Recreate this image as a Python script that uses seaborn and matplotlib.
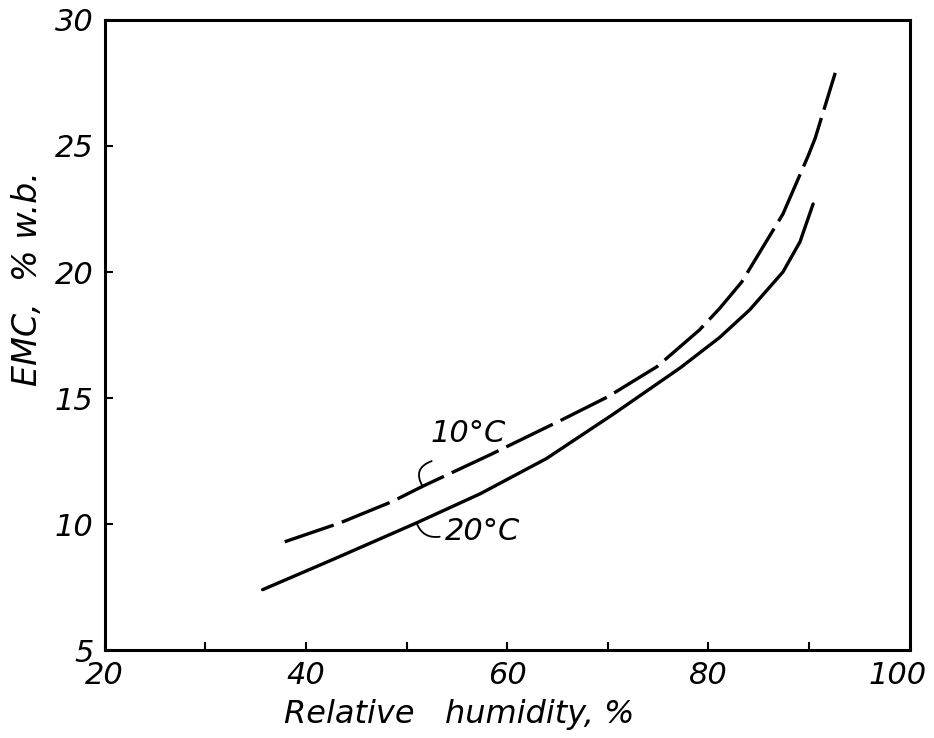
import numpy as np
import pandas as pd
import seaborn as sns
import matplotlib.pyplot as plt
from matplotlib.transforms import ScaledTranslation

# Curve values ----------------------------------------------------------------
rh_10c = [37.9, 43.4, 48.6, 51.6, 58.3, 65.5, 70.0, 74.9, 79.1, 81.1, 83.3, 87.4, 89.9, 90.6, 92.6]
emc_10c = [9.3, 10.05, 10.9, 11.5, 12.75, 14.15, 15.05, 16.25, 17.7, 18.55, 19.6, 22.3, 24.6, 25.3, 27.9]

rh_20c = [35.7, 42.7, 51.0, 57.3, 63.9, 70.5, 77.2, 81.1, 84.1, 87.4, 89.1, 90.4]
emc_20c = [7.4, 8.6, 10.05, 11.2, 12.6, 14.35, 16.2, 17.4, 18.5, 20.0, 21.2, 22.7]

x_ticks = [20, 40, 60, 80, 100]
y_ticks = [5, 10, 15, 20, 25, 30]

df_10 = pd.DataFrame({'rh': rh_10c, 'emc': emc_10c})
df_20 = pd.DataFrame({'rh': rh_20c, 'emc': emc_20c})

sns.set_style('white')
plt.rcParams['font.family'] = ['DejaVu Sans']
plt.rcParams['text.color'] = 'black'
plt.rcParams['axes.labelcolor'] = 'black'

fig = plt.figure(figsize=(9.34, 7.38), dpi=100)
ax = fig.add_axes([0.112, 0.119, 0.862, 0.854])

sns.lineplot(data=df_10, x='rh', y='emc', ax=ax, color='black', linewidth=2.4, sort=False)
ax.lines[-1].set_dashes([15.5, 2.6])
sns.lineplot(data=df_20, x='rh', y='emc', ax=ax, color='black', linewidth=2.4, sort=False)

ax.set_xlim(20, 100)
ax.set_ylim(5, 30)

ax.set_xticks(x_ticks)
ax.set_xticks([30, 50, 70, 90], minor=True)
ax.set_yticks(y_ticks)
ax.set_xticklabels([str(t) for t in x_ticks], fontsize=22, fontstyle='italic')
ax.set_yticklabels([str(t) for t in y_ticks], fontsize=22, fontstyle='italic')
ax.tick_params(axis='both', which='both', direction='in', length=6, width=1.5,
               colors='black', pad=8, bottom=True, left=True)

# nudge the last x label so it stays on the page
lbl = ax.get_xticklabels()[-1]
lbl.set_transform(lbl.get_transform() + ScaledTranslation(-9 / 72, 0, fig.dpi_scale_trans))

for s in ax.spines.values():
    s.set_visible(True)
    s.set_color('black')
    s.set_linewidth(2.2)

ax.set_xlabel('Relative   humidity, %', fontsize=23, fontstyle='italic')
ax.xaxis.set_label_coords(0.44, -0.077)
ax.set_ylabel('EMC,  % w.b.', fontsize=24, fontstyle='italic')
ax.yaxis.set_label_coords(-0.075, 0.59)

# curve labels with small curly leaders
ax.text(56.1, 13.6, '10°C', fontsize=22, fontstyle='italic', ha='center', va='center')
ax.annotate('', xy=(51.6, 11.5), xytext=(52.5, 12.5),
            arrowprops=dict(arrowstyle='-', color='black', lw=1.3, shrinkA=0, shrinkB=0,
                            connectionstyle='arc3,rad=0.6'))
ax.text(57.5, 9.7, '20°C', fontsize=22, fontstyle='italic', ha='center', va='center')
ax.annotate('', xy=(51.0, 10.05), xytext=(53.3, 9.5),
            arrowprops=dict(arrowstyle='-', color='black', lw=1.3, shrinkA=0, shrinkB=0,
                            connectionstyle='arc3,rad=-0.4'))

fig.savefig('out.png', dpi=100)
